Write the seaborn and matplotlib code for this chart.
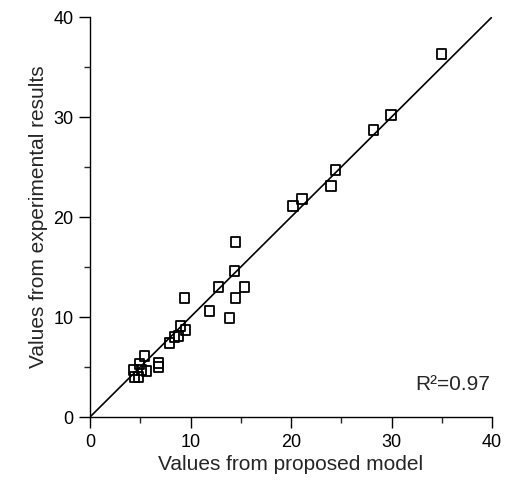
import matplotlib
matplotlib.use("Agg")
import matplotlib.pyplot as plt
import seaborn as sns
import pandas as pd
from matplotlib.ticker import MultipleLocator

model_vals = [35.0, 29.95, 28.2, 24.45, 24.0, 21.1, 20.2, 14.5, 14.35, 12.8, 15.4, 14.5, 9.4, 11.9, 13.9,
              9.0, 9.5, 8.8, 8.4, 7.9, 5.4, 6.8, 6.8, 4.9, 4.3, 5.1, 5.6, 4.4, 4.8]
exp_vals = [36.3, 30.2, 28.7, 24.7, 23.1, 21.8, 21.1, 17.5, 14.6, 13.0, 13.0, 11.9, 11.9, 10.6, 9.9,
            9.1, 8.7, 8.1, 8.0, 7.4, 6.1, 5.4, 5.0, 5.3, 4.7, 4.7, 4.6, 4.0, 4.0]
fit_x = [0, 40]
fit_y = [0, 40]
r2_text = "R\u00b2=0.97"

sns.set_theme(style="ticks")
plt.rcParams['font.family'] = ['Liberation Sans', 'DejaVu Sans']

fig = plt.figure(figsize=(5.08, 4.86), dpi=100)
ax = fig.add_axes([90/508, 1-417/486, 402/508, 400/486])

df = pd.DataFrame({"x": model_vals, "y": exp_vals})
sns.lineplot(x=fit_x, y=fit_y, ax=ax, color="black", linewidth=1.2)
sns.scatterplot(data=df, x="x", y="y", ax=ax, marker="s", s=46, facecolor="none",
                edgecolor="black", linewidth=1.3, zorder=3)

ax.set_xlim(0, 40)
ax.set_ylim(0, 40)
ax.xaxis.set_major_locator(MultipleLocator(10))
ax.yaxis.set_major_locator(MultipleLocator(10))
ax.xaxis.set_minor_locator(MultipleLocator(5))
ax.yaxis.set_minor_locator(MultipleLocator(5))
ax.tick_params(which="major", direction="out", length=8, width=1, labelsize=13, colors="black", pad=4)
ax.tick_params(which="minor", direction="out", length=4, width=1)
for s in ["top", "right"]:
    ax.spines[s].set_visible(False)
for s in ["left", "bottom"]:
    ax.spines[s].set_color("black")
    ax.spines[s].set_linewidth(1.0)
ax.set_xlabel("Values from proposed model", fontsize=15, labelpad=3)
ax.set_ylabel("Values from experimental results", fontsize=15, labelpad=4)
ax.text(39.8, 2.3, r2_text, fontsize=15, ha="right", va="bottom")

fig.savefig("out.png", dpi=100)
